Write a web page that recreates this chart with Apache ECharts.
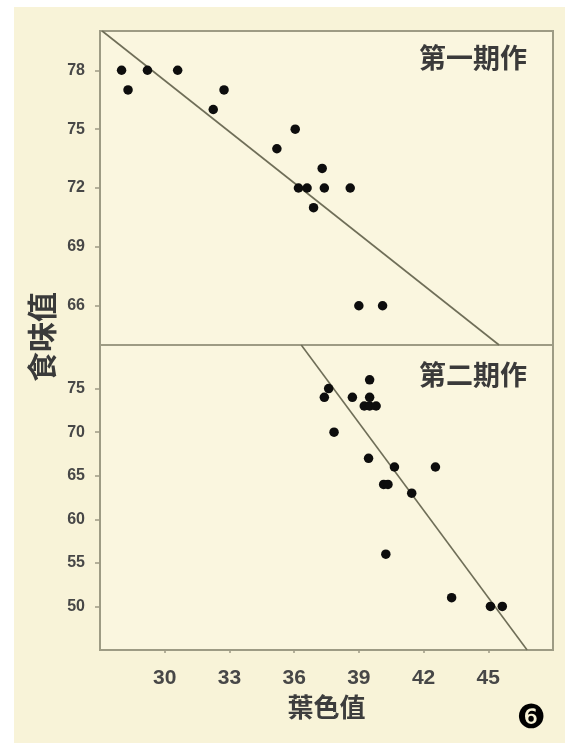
<!DOCTYPE html>
<html>
<head>
<meta charset="utf-8">
<script src="https://cdn.jsdelivr.net/npm/echarts@6/dist/echarts.min.js"></script>
<style>
  html, body { margin: 0; padding: 0; background: #ffffff; }
  #bg { position: absolute; left: 14px; top: 7px; width: 551px; height: 736px; background: #f8f3d8; }
  #chart { position: absolute; left: 0; top: 0; width: 565px; height: 743px; }
</style>
</head>
<body>
<div id="bg"></div>
<div id="chart"></div>
<script>
// ---- Data ----
const xAxisTitle = '葉色值';
const yAxisTitle = '食味值';
const panelLabels = ['第一期作', '第二期作'];
const xTicks = [30, 33, 36, 39, 42, 45];
const yTicksTop = [66, 69, 72, 75, 78];
const yTicksBottom = [50, 55, 60, 65, 70, 75];

// First crop (第一期作): [葉色值, 食味值]
const crop1X = [28.0, 28.3, 29.2, 30.6, 32.75, 32.25, 36.05, 35.2, 37.3, 36.2, 36.6, 37.4, 38.6, 36.9, 39.0, 40.1];
const crop1Y = [78, 77, 78, 78, 77, 76, 75, 74, 73, 72, 72, 72, 72, 71, 66, 66];
// Regression line endpoints, first crop
const crop1LineX = [27.1, 45.5];
const crop1LineY = [80, 64];

// Second crop (第二期作)
const crop2X = [37.6, 37.4, 39.5, 38.7, 39.5, 39.25, 39.5, 39.8, 37.85, 39.45, 40.65, 42.55, 40.15, 40.35, 41.45, 40.25, 43.3, 45.1, 45.65];
const crop2Y = [75, 74, 76, 74, 74, 73, 73, 73, 70, 67, 66, 66, 64, 64, 63, 56, 51, 50, 50];
// Regression line endpoints, second crop
const crop2LineX = [36.33, 46.8];
const crop2LineY = [80, 45];

const zip = (xs, ys) => xs.map((x, i) => [x, ys[i]]);

// ---- Styles ----
const frameColor = '#9d9b84';
const textColor = '#474747';
const plotBg = '#faf6df';
const cjkFont = '"Noto Sans CJK TC", "Noto Sans CJK SC", sans-serif';
const numFont = '"Liberation Sans", Arial, sans-serif';

const chart = echarts.init(document.getElementById('chart'), null, { renderer: 'canvas' });

const gridCommon = {
  left: 100, right: 12, show: true, backgroundColor: plotBg,
  borderColor: frameColor, borderWidth: 2, containLabel: false
};

const option = {
  backgroundColor: 'transparent',
  animation: false,
  grid: [
    Object.assign({ top: 31, height: 314 }, gridCommon),
    Object.assign({ top: 345, height: 305 }, gridCommon)
  ],
  xAxis: [
    {
      gridIndex: 0, type: 'value', min: 27, max: 48, interval: 3,
      axisLine: { show: false }, axisTick: { show: false },
      axisLabel: { show: false }, splitLine: { show: false }
    },
    {
      gridIndex: 1, type: 'value', min: 27, max: 48, interval: 3,
      axisLine: { show: false },
      axisTick: { show: true, length: 3, lineStyle: { color: frameColor, width: 1.5 } },
      axisLabel: {
        margin: 18, color: textColor, fontSize: 21, fontWeight: 'bold', fontFamily: numFont,
        showMinLabel: false, showMaxLabel: false,
        formatter: v => (xTicks.indexOf(v) >= 0 ? String(v) : '')
      },
      splitLine: { show: false },
      name: xAxisTitle, nameLocation: 'middle', nameGap: 44,
      nameTextStyle: { color: '#3d3d3d', fontSize: 26, fontWeight: 'bold', fontFamily: cjkFont }
    }
  ],
  yAxis: [
    {
      gridIndex: 0, type: 'value', min: 64, max: 80,
      axisLine: { show: false },
      axisTick: { show: true, length: 5, customValues: yTicksTop, lineStyle: { color: frameColor, width: 1.5 } },
      axisLabel: {
        margin: 15, color: textColor, fontSize: 16, fontWeight: 'bold', fontFamily: numFont,
        customValues: yTicksTop
      },
      splitLine: { show: false }
    },
    {
      gridIndex: 1, type: 'value', min: 45, max: 80, interval: 5,
      axisLine: { show: false },
      axisTick: { show: true, length: 5, lineStyle: { color: frameColor, width: 1.5 } },
      axisLabel: {
        margin: 15, color: textColor, fontSize: 16, fontWeight: 'bold', fontFamily: numFont,
        showMinLabel: false, showMaxLabel: false,
        formatter: v => (yTicksBottom.indexOf(v) >= 0 ? String(v) : '')
      },
      splitLine: { show: false }
    }
  ],
  series: [
    {
      type: 'line', xAxisIndex: 0, yAxisIndex: 0, data: zip(crop1LineX, crop1LineY),
      symbol: 'none', silent: true, clip: true,
      lineStyle: { color: '#6f6e58', width: 1.6 }, z: 2
    },
    {
      type: 'line', xAxisIndex: 1, yAxisIndex: 1, data: zip(crop2LineX, crop2LineY),
      symbol: 'none', silent: true, clip: true,
      lineStyle: { color: '#6f6e58', width: 1.6 }, z: 2
    },
    {
      type: 'scatter', xAxisIndex: 0, yAxisIndex: 0, data: zip(crop1X, crop1Y),
      symbol: 'circle', symbolSize: 9.5, itemStyle: { color: '#0d0d0d', opacity: 1 }, z: 3
    },
    {
      type: 'scatter', xAxisIndex: 1, yAxisIndex: 1, data: zip(crop2X, crop2Y),
      symbol: 'circle', symbolSize: 9.5, itemStyle: { color: '#0d0d0d', opacity: 1 }, z: 3
    }
  ],
  graphic: [
    {
      type: 'text', x: 527, y: 58, z: 10,
      style: { text: panelLabels[0], fill: '#3a3a3a', font: 'bold 27px ' + cjkFont, align: 'right', verticalAlign: 'middle' }
    },
    {
      type: 'text', x: 527, y: 375, z: 10,
      style: { text: panelLabels[1], fill: '#3a3a3a', font: 'bold 27px ' + cjkFont, align: 'right', verticalAlign: 'middle' }
    },
    {
      type: 'text', x: 42, y: 337, rotation: Math.PI / 2, z: 10,
      style: { text: yAxisTitle, fill: '#3a3a3a', font: 'bold 30px ' + cjkFont, align: 'center', verticalAlign: 'middle' }
    },
    {
      type: 'text', x: 531, y: 719, z: 10,
      style: { text: '❻', fill: '#000000', font: '33px "DejaVu Sans", sans-serif', align: 'center', verticalAlign: 'middle' }
    }
  ]
};

chart.setOption(option);
</script>
</body>
</html>
